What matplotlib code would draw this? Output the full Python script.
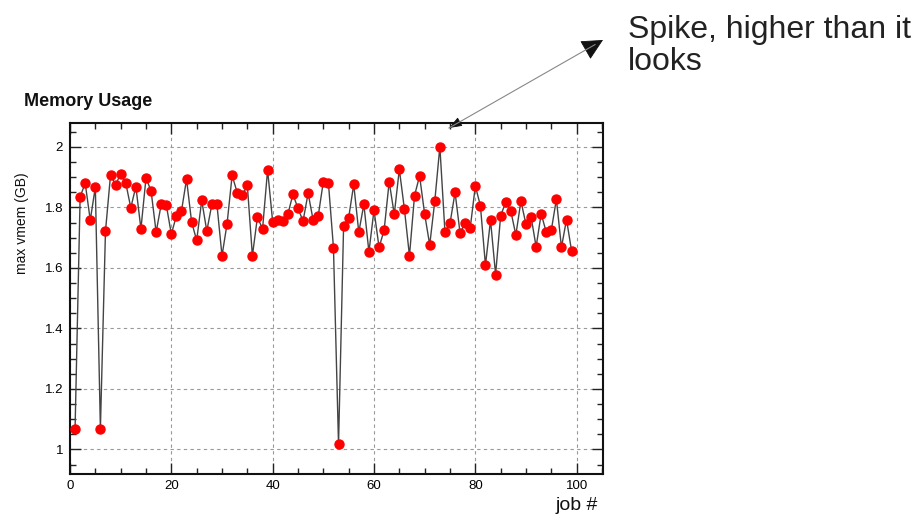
import numpy as np
import matplotlib
matplotlib.use('Agg')
import matplotlib.pyplot as plt
from matplotlib.patches import FancyArrowPatch
from matplotlib.ticker import MultipleLocator

plt.rcParams['font.family'] = ['Liberation Sans', 'DejaVu Sans']

# 数据: 每个 job 的最大虚拟内存 (GB)
jobs = list(range(1, 100))
max_vmem = [
    1.068, 1.835, 1.880, 1.758, 1.867, 1.069, 1.721, 1.907, 1.875, 1.911,
    1.881, 1.799, 1.869, 1.729, 1.897, 1.855, 1.718, 1.810, 1.808, 1.712,
    1.772, 1.788, 1.893, 1.752, 1.691, 1.823, 1.722, 1.810, 1.810, 1.640,
    1.746, 1.906, 1.849, 1.840, 1.873, 1.640, 1.769, 1.728, 1.924, 1.753,
    1.760, 1.755, 1.778, 1.843, 1.797, 1.755, 1.847, 1.757, 1.773, 1.885,
    1.882, 1.667, 1.017, 1.738, 1.766, 1.876, 1.718, 1.810, 1.653, 1.791,
    1.668, 1.725, 1.885, 1.777, 1.926, 1.795, 1.640, 1.839, 1.904, 1.778,
    1.676, 1.821, 2.001, 1.720, 1.747, 1.850, 1.714, 1.750, 1.733, 1.871,
    1.806, 1.609, 1.758, 1.578, 1.773, 1.817, 1.788, 1.709, 1.821, 1.744,
    1.769, 1.670, 1.779, 1.718, 1.725, 1.827, 1.668, 1.760, 1.656,
]

W, H = 917, 519
fig = plt.figure(figsize=(W / 100, H / 100), dpi=100)


def fx(px):
    return px / W


def fy(py):
    return 1 - py / H


ax = fig.add_axes([fx(70), fy(474), fx(603) - fx(70), fy(123) - fy(474)])

ax.plot(jobs, max_vmem, color='#444444', lw=1.0, zorder=3)
ax.plot(jobs, max_vmem, 'o', color='#ff0000', ms=6.5, mec='#ff0000', zorder=4)

ax.set_xlim(0, 105.2)
ax.set_ylim(0.919, 2.079)
ax.xaxis.set_major_locator(MultipleLocator(20))
ax.xaxis.set_minor_locator(MultipleLocator(5))
ax.yaxis.set_minor_locator(MultipleLocator(0.05))
ax.set_yticks([1, 1.2, 1.4, 1.6, 1.8, 2])
ax.set_yticklabels(['1', '1.2', '1.4', '1.6', '1.8', '2'])

ax.grid(True, which='major', color='#999999', lw=0.8, ls=(0, (3, 3)), zorder=1)
ax.tick_params(which='both', direction='in', top=True, right=True,
               labelsize=9.5, color='#222222', width=1.0)
ax.tick_params(which='major', length=8)
ax.tick_params(which='minor', length=4)
ax.tick_params(axis='x', pad=4)
ax.tick_params(axis='y', pad=5)
for sp in ax.spines.values():
    sp.set_linewidth(1.5)
    sp.set_color('#111111')

# 标题与坐标轴文字
fig.text(fx(24), fy(101), 'Memory Usage', fontsize=13, weight='bold',
         ha='left', va='center', color='#111111')
fig.text(fx(22), fy(172), 'max vmem (GB)', fontsize=10, rotation=90,
         ha='center', va='top', color='#111111')
fig.text(fx(598), fy(506), 'job #', fontsize=14, ha='right', va='center',
         color='#111111')

# 注释: 灰色细线 + 两端黑色箭头
fig.text(fx(628), fy(15), 'Spike, higher than it\nlooks', fontsize=23,
         ha='left', va='top', linespacing=1.07, color='#222222')
fig.add_artist(plt.Line2D([fx(449), fx(595)], [fy(128), fy(44.6)],
                          transform=fig.transFigure, color='#888888', lw=0.8))
fig.add_artist(FancyArrowPatch(
    (fx(588), fy(48.6)), (fx(603), fy(40)), transform=fig.transFigure,
    arrowstyle='-|>,head_length=8,head_width=4', color='#111111',
    lw=0.6, shrinkA=0, shrinkB=0, mutation_scale=1.7))
fig.add_artist(FancyArrowPatch(
    (fx(460), fy(121.7)), (fx(449), fy(128)), transform=fig.transFigure,
    arrowstyle='-|>,head_length=8,head_width=3', color='#111111',
    lw=0.6, shrinkA=0, shrinkB=0, mutation_scale=1.0))

fig.savefig('out.png', dpi=100)
